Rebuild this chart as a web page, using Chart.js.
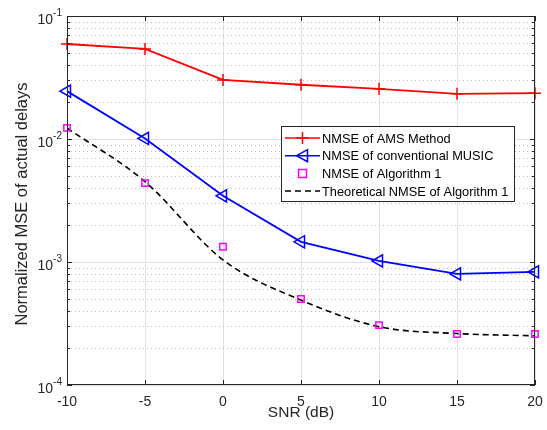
<!DOCTYPE html>
<html>
<head>
<meta charset="utf-8">
<script src="https://cdn.jsdelivr.net/npm/chart.js@4"></script>
<style>
  html, body { margin: 0; padding: 0; background: #fff; }
  #wrap { width: 547px; height: 430px; }
</style>
</head>
<body>
<div id="wrap"><canvas id="graph" width="547" height="430"></canvas></div>
<script>
// data
const snr = [-10, -5, 0, 5, 10, 15, 20];
const amsNmse = [0.0592, 0.054, 0.0302, 0.0276, 0.0256, 0.0233, 0.0236];
const musicNmse = [0.0245, 0.0101, 0.00345, 0.00146, 0.00102, 0.0008, 0.00083];
const alg1Nmse = [0.0123, 0.00438, 0.00133, 0.0005, 0.000307, 0.00026, 0.00026];
const theoryNmse = [0.0123, 0.0045, 0.00104, 0.00049, 0.000298, 0.000262, 0.000251];
const xTicks = [-10, -5, 0, 5, 10, 15, 20];
const yDecades = [-4, -3, -2, -1];

const axisColor = '#262626';
const font = 'Liberation Sans, Arial, sans-serif';

function toPoints(values) {
    return snr.map((x, i) => ({ x: x, y: values[i] }));
}

// y ticks: every 1..9 x 10^n, decades are major
function buildYTicks(scale) {
    const ticks = [];
    for (let e = -4; e < -1; e++) {
        for (let m = 1; m < 10; m++) {
            ticks.push({ value: m * Math.pow(10, e), major: m === 1 });
        }
    }
    ticks.push({ value: 0.1, major: true });
    scale.ticks = ticks;
}

// dotted minor grid (Chart.js can't dash single grid lines)
const minorGrid = {
    id: 'minorGrid',
    beforeDatasetsDraw(chart) {
        const ctx = chart.ctx;
        const a = chart.chartArea;
        const ys = chart.scales.y;
        ctx.save();
        ctx.strokeStyle = '#bdbdbd';
        ctx.lineWidth = 1;
        ctx.setLineDash([1, 3]);
        ctx.beginPath();
        ys.ticks.forEach(t => {
            if (t.major) return;
            const py = Math.round(ys.getPixelForValue(t.value)) + 0.5;
            ctx.moveTo(a.left, py); ctx.lineTo(a.right, py);
        });
        ctx.stroke();
        ctx.restore();
    }
};

// MATLAB style frame, inward ticks and superscript labels
const matlabAxes = {
    id: 'matlabAxes',
    afterDraw(chart) {
        const ctx = chart.ctx;
        const a = chart.chartArea;
        const xs = chart.scales.x;
        const ys = chart.scales.y;
        ctx.save();
        ctx.strokeStyle = axisColor;
        ctx.lineWidth = 1;
        ctx.strokeRect(a.left + 0.5, a.top + 0.5, a.right - a.left - 1, a.bottom - a.top - 1);

        ctx.beginPath();
        xTicks.forEach(v => {
            const px = Math.round(xs.getPixelForValue(v)) + 0.5;
            ctx.moveTo(px, a.bottom); ctx.lineTo(px, a.bottom - 5);
            ctx.moveTo(px, a.top); ctx.lineTo(px, a.top + 5);
        });
        ys.ticks.forEach(t => {
            const py = Math.round(ys.getPixelForValue(t.value)) + 0.5;
            const len = t.major ? 5 : 3;
            ctx.moveTo(a.left, py); ctx.lineTo(a.left + len, py);
            ctx.moveTo(a.right, py); ctx.lineTo(a.right - len, py);
        });
        ctx.stroke();

        ctx.fillStyle = axisColor;
        ctx.font = '14px ' + font;
        ctx.textAlign = 'center';
        ctx.textBaseline = 'middle';
        xTicks.forEach(v => {
            ctx.fillText(String(v), xs.getPixelForValue(v), a.bottom + 17);
        });

        ctx.textAlign = 'left';
        yDecades.forEach(e => {
            const py = ys.getPixelForValue(Math.pow(10, e));
            const expText = String(e);
            ctx.font = '10px ' + font;
            const ew = ctx.measureText(expText).width;
            ctx.font = '14px ' + font;
            const bw = ctx.measureText('10').width;
            const x0 = a.left - 5 - ew - bw;
            ctx.fillText('10', x0, py + 4);
            ctx.font = '10px ' + font;
            ctx.fillText(expText, x0 + bw, py - 3);
        });

        ctx.font = '15.5px ' + font;
        ctx.textAlign = 'center';
        ctx.fillText('SNR (dB)', 301, 413);
        ctx.font = '16.5px ' + font;
        ctx.translate(22, 204);
        ctx.rotate(-Math.PI / 2);
        ctx.fillText('Normalized MSE of actual delays', 0, 0);
        ctx.restore();
    }
};

new Chart(document.getElementById('graph'), {
    type: 'line',
    data: {
        datasets: [
            {
                label: 'NMSE of AMS Method',
                data: toPoints(amsNmse),
                borderColor: '#ff0000',
                backgroundColor: '#ff0000',
                borderWidth: 1.8,
                pointStyle: 'cross',
                pointRadius: 6,
                pointBorderWidth: 1.5,
                clip: false
            },
            {
                label: 'NMSE of conventional MUSIC',
                data: toPoints(musicNmse),
                borderColor: '#0000ff',
                backgroundColor: 'rgba(0,0,0,0)',
                borderWidth: 1.8,
                pointStyle: 'triangle',
                pointRotation: -90,
                pointRadius: 7,
                pointBorderWidth: 1.5,
                clip: false
            },
            {
                label: 'NMSE of Algorithm 1',
                data: toPoints(alg1Nmse),
                showLine: false,
                borderColor: '#ff00ff',
                backgroundColor: 'rgba(0,0,0,0)',
                pointStyle: 'rect',
                pointRadius: 4.5,
                pointBorderWidth: 1.5,
                clip: false
            },
            {
                label: 'Theoretical NMSE of Algorithm 1',
                data: toPoints(theoryNmse),
                borderColor: '#000000',
                backgroundColor: '#000000',
                borderWidth: 1.6,
                borderDash: [6, 4],
                cubicInterpolationMode: 'monotone',
                pointRadius: 0
            }
        ]
    },
    options: {
        responsive: false,
        animation: false,
        layout: { padding: { left: 67, right: 12, top: 16, bottom: 45 } },
        plugins: {
            legend: { display: false },
            tooltip: { enabled: false }
        },
        scales: {
            x: {
                type: 'linear',
                min: -10,
                max: 20,
                afterBuildTicks: scale => {
                    scale.ticks = xTicks.map(v => ({ value: v }));
                },
                ticks: { display: false },
                border: { display: false },
                grid: { color: '#e1e1e1', lineWidth: 1, drawTicks: false }
            },
            y: {
                type: 'logarithmic',
                min: 1e-4,
                max: 1e-1,
                afterBuildTicks: buildYTicks,
                ticks: { display: false },
                border: { display: false },
                grid: {
                    drawTicks: false,
                    color: ctx => (ctx.tick && ctx.tick.major) ? '#e1e1e1' : 'rgba(0,0,0,0)'
                }
            }
        }
    },
    plugins: [minorGrid, matlabAxes, {
        id: 'matlabLegend',
        afterDraw(chart) {
            const ctx = chart.ctx;
            const bx = 281, by = 126, bw = 233, bh = 75;
            ctx.save();
            ctx.fillStyle = '#ffffff';
            ctx.fillRect(bx, by, bw, bh);
            ctx.strokeStyle = axisColor;
            ctx.lineWidth = 1;
            ctx.strokeRect(bx + 0.5, by + 0.5, bw, bh);
            const rowH = 17.7;
            const x1 = bx + 4, x2 = bx + 39;
            const xm = (x1 + x2) / 2;
            ctx.font = '12.8px ' + font;
            ctx.textBaseline = 'middle';
            chart.data.datasets.forEach((ds, i) => {
                const y = by + 12 + i * rowH;
                ctx.strokeStyle = ds.borderColor;
                ctx.lineWidth = 1.5;
                if (ds.showLine !== false) {
                    ctx.setLineDash(ds.borderDash || []);
                    ctx.beginPath();
                    ctx.moveTo(x1, y); ctx.lineTo(x2, y);
                    ctx.stroke();
                    ctx.setLineDash([]);
                }
                ctx.beginPath();
                if (ds.pointStyle === 'cross') {
                    ctx.moveTo(xm - 6, y); ctx.lineTo(xm + 6, y);
                    ctx.moveTo(xm, y - 6); ctx.lineTo(xm, y + 6);
                } else if (ds.pointStyle === 'triangle') {
                    ctx.moveTo(xm - 6, y); ctx.lineTo(xm + 5, y - 6);
                    ctx.lineTo(xm + 5, y + 6); ctx.closePath();
                } else if (ds.pointStyle === 'rect') {
                    ctx.rect(xm - 4, y - 4, 8, 8);
                }
                ctx.stroke();
                ctx.fillStyle = '#000000';
                ctx.fillText(ds.label, x2 + 2, y + 1);
            });
            ctx.restore();
        }
    }]
});
</script>
</body>
</html>
